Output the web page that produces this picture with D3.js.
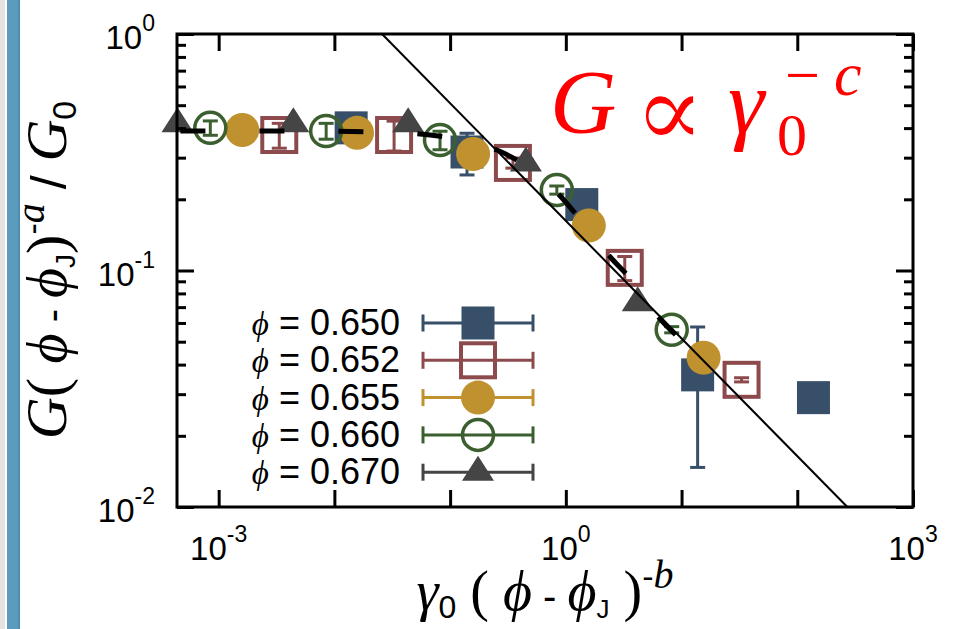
<!DOCTYPE html>
<html><head><meta charset="utf-8">
<script src="https://cdn.jsdelivr.net/npm/d3@7"></script>
<style>body{margin:0;background:#fff;overflow:hidden}</style>
</head><body>
<svg id="c" width="957" height="629" xmlns="http://www.w3.org/2000/svg"></svg>
<script>
// ---------- data ----------
const seriesLabels = ["0.650", "0.652", "0.655", "0.660", "0.670"];

const phi650X = [0.01396, 0.140, 1.374, 13.77, 138];
const phi650Y = [0.401, 0.317, 0.190, 0.0362, 0.0290];
const phi650E = [0.02, 0.0635, 0.02, 0.0215, 0.001];

const phi652X = [0.00334, 0.0328, 0.349, 3.23, 33.0];
const phi652Y = [0.374, 0.374, 0.285, 0.1026, 0.0345];
const phi652E = [0.045, 0.054, 0.014, 0.012, 0.0007];

const phi655X = [0.00160, 0.0157, 0.158, 1.58, 15.5];
const phi655Y = [0.393, 0.382, 0.311, 0.155, 0.0428];
const phi655E = [0.01, 0.01, 0.01, 0.005, 0.002];

const phi660X = [0.000847, 0.00849, 0.0818, 0.836, 8.22];
const phi660Y = [0.401, 0.389, 0.356, 0.219, 0.0562];
const phi660E = [0.028, 0.030, 0.032, 0.0087, 0.0017];

const phi670X = [0.000441, 0.00442, 0.0434, 0.452, 4.18];
const phi670Y = [0.417, 0.417, 0.417, 0.285, 0.0731];
const phi670E = [0.01, 0.01, 0.01, 0.01, 0.002];

// master curve (dashed)
const masterX = [0.00044, 0.00507, 0.0248, 0.0904, 0.254, 0.401, 0.924, 1.269, 2.544, 3.57, 6.87, 8.89];
const masterY = [0.389, 0.389, 0.385, 0.367, 0.323, 0.288, 0.203, 0.169, 0.111, 0.0931, 0.0607, 0.0535];

// power-law guide line endpoints
const fitX = [0.0258, 271];
const fitY = [1, 0.01];

const xTickExps = [-3, -2, -1, 0, 1, 2, 3];
const xLabelExps = [-3, 0, 3];
const yLabelExps = [-2, -1, 0];

// ---------- styles ----------
const colors = ["#384f69", "#8c4a4d", "#c0922f", "#3c5f2f", "#454545"];
const shapes = ["sqFill", "sqOpen", "circFill", "circOpen", "tri"];
const SERIF = "'Liberation Serif','DejaVu Serif',serif";
const SANS = "'Liberation Sans',Arial,Helvetica,sans-serif";

const svg = d3.select("#c");
const L = 177, R = 913, T = 34, B = 507;

const x = d3.scaleLog().domain([Math.pow(10, -3.36), 1e3]).range([L, R]);
const y = d3.scaleLog().domain([0.01, 1]).range([B, T]);

// left decorative strip
svg.append("rect").attr("x", 0).attr("y", 0).attr("width", 5).attr("height", 629).attr("fill", "#e3e3e3");
svg.append("rect").attr("x", 7).attr("y", 0).attr("width", 13).attr("height", 629).attr("fill", "#5a9bbe");
svg.append("rect").attr("x", 18).attr("y", 0).attr("width", 2).attr("height", 629).attr("fill", "#4f8cad");

const series = [
  {X: phi650X, Y: phi650Y, E: phi650E},
  {X: phi652X, Y: phi652Y, E: phi652E},
  {X: phi655X, Y: phi655Y, E: phi655E},
  {X: phi660X, Y: phi660Y, E: phi660E},
  {X: phi670X, Y: phi670Y, E: phi670E}
];

function drawMarker(g, shape, color, cx, cy) {
  if (shape === "sqFill") {
    g.append("rect").attr("x", cx - 16.5).attr("y", cy - 16.5).attr("width", 33).attr("height", 33).attr("fill", color);
  } else if (shape === "sqOpen") {
    g.append("rect").attr("x", cx - 17).attr("y", cy - 17).attr("width", 34).attr("height", 34)
      .attr("fill", "none").attr("stroke", color).attr("stroke-width", 4);
  } else if (shape === "circFill") {
    g.append("circle").attr("cx", cx).attr("cy", cy).attr("r", 17).attr("fill", color);
  } else if (shape === "circOpen") {
    g.append("circle").attr("cx", cx).attr("cy", cy).attr("r", 15.5)
      .attr("fill", "none").attr("stroke", color).attr("stroke-width", 3.5);
  } else {
    g.append("path").attr("d", `M${cx},${cy - 16.5}L${cx + 16},${cy + 8.5}L${cx - 16},${cy + 8.5}Z`).attr("fill", color);
  }
}

const gData = svg.append("g");
series.forEach((s, i) => {
  const g = gData.append("g");
  s.X.forEach((xv, j) => {
    const cx = x(xv), yv = s.Y[j], e = s.E[j];
    const y1 = y(yv + e), y2 = y(Math.max(yv - e, 1e-4));
    g.append("line").attr("x1", cx).attr("x2", cx).attr("y1", y1).attr("y2", y2)
      .attr("stroke", colors[i]).attr("stroke-width", 3);
    [y1, y2].forEach(yy => g.append("line").attr("x1", cx - 7.5).attr("x2", cx + 7.5).attr("y1", yy).attr("y2", yy)
      .attr("stroke", colors[i]).attr("stroke-width", 3));
  });
  s.X.forEach((xv, j) => drawMarker(g, shapes[i], colors[i], x(xv), y(s.Y[j])));
});

// dashed master curve
const master = masterX.map((v, i) => [v, masterY[i]]);
svg.append("path").datum(master)
  .attr("d", d3.line().x(d => x(d[0])).y(d => y(d[1])).curve(d3.curveMonotoneX))
  .attr("fill", "none").attr("stroke", "#000").attr("stroke-width", 5)
  .attr("stroke-dasharray", "25,54").attr("stroke-dashoffset", 76);

// power-law line
svg.append("path").datum(fitX.map((v, i) => [v, fitY[i]]))
  .attr("d", d3.line().x(d => x(d[0])).y(d => y(d[1])))
  .attr("fill", "none").attr("stroke", "#000").attr("stroke-width", 2);

// ---------- axes ----------
const yTickVals = [];
[-2, -1].forEach(e => { for (let m = 1; m <= 9; m++) yTickVals.push(m * Math.pow(10, e)); });
yTickVals.push(1);
const isMajor = v => Math.abs(Math.log10(v) - Math.round(Math.log10(v))) < 1e-6;
const xTickVals = xTickExps.map(e => Math.pow(10, e));

function styleAxis(g, horiz, sign) {
  g.select(".domain").remove();
  g.selectAll(".tick text").remove();
  g.selectAll(".tick line").attr("stroke", "#000").attr("stroke-width", 3)
    .each(function(d) {
      const len = isMajor(d) ? 17 : 9;
      if (horiz) d3.select(this).attr("y2", sign * len); else d3.select(this).attr("x2", sign * len);
    });
}
styleAxis(svg.append("g").attr("transform", `translate(${L},0)`).call(d3.axisLeft(y).tickValues(yTickVals).tickSize(-17).tickFormat("")), false, 1);
styleAxis(svg.append("g").attr("transform", `translate(${R},0)`).call(d3.axisRight(y).tickValues(yTickVals).tickSize(-17).tickFormat("")), false, -1);
styleAxis(svg.append("g").attr("transform", `translate(0,${B})`).call(d3.axisBottom(x).tickValues(xTickVals).tickSize(-17).tickFormat("")), true, -1);
styleAxis(svg.append("g").attr("transform", `translate(0,${T})`).call(d3.axisTop(x).tickValues(xTickVals).tickSize(-17).tickFormat("")), true, 1);

svg.append("rect").attr("x", L).attr("y", T).attr("width", R - L).attr("height", B - T)
  .attr("fill", "none").attr("stroke", "#000").attr("stroke-width", 3);

// tick labels
xLabelExps.forEach(e => {
  const t = svg.append("text").attr("x", x(Math.pow(10, e))).attr("y", 560)
    .attr("text-anchor", "middle").attr("font-family", SANS).attr("font-size", 33).attr("fill", "#000");
  t.append("tspan").text("10");
  t.append("tspan").attr("font-size", 23).attr("dy", -18).text(String(e));
});
yLabelExps.forEach(e => {
  const t = svg.append("text").attr("x", 155).attr("y", y(Math.pow(10, e)) + 15)
    .attr("text-anchor", "end").attr("font-family", SANS).attr("font-size", 33).attr("fill", "#000");
  t.append("tspan").text("10");
  t.append("tspan").attr("font-size", 23).attr("dy", -18).text(String(e));
});

// ---------- legend ----------
seriesLabels.forEach((lab, i) => {
  const cy = 323 + i * 37.3;
  const t = svg.append("text").attr("x", 400).attr("y", cy + 12).attr("text-anchor", "end")
    .attr("fill", "#000").style("white-space", "pre");
  t.append("tspan").attr("font-family", SERIF).attr("font-style", "italic").attr("font-size", 33).text("ϕ");
  t.append("tspan").attr("font-family", SANS).attr("font-size", 36).text(" = " + lab);
  const g = svg.append("g");
  g.append("line").attr("x1", 423).attr("x2", 533).attr("y1", cy).attr("y2", cy).attr("stroke", colors[i]).attr("stroke-width", 3);
  [423, 533].forEach(xx => g.append("line").attr("x1", xx).attr("x2", xx).attr("y1", cy - 8.5).attr("y2", cy + 8.5)
    .attr("stroke", colors[i]).attr("stroke-width", 3));
  drawMarker(g, shapes[i], colors[i], 478, cy);
});

// ---------- axis titles ----------
const yl = svg.append("text").attr("transform", "translate(66,270) rotate(-90)")
  .attr("text-anchor", "middle").attr("fill", "#000").style("white-space", "pre").attr("font-size", 58);
yl.append("tspan").attr("font-family", SERIF).attr("font-style", "italic").text("G");
yl.append("tspan").attr("font-family", SERIF).text("( ");
yl.append("tspan").attr("font-family", SERIF).attr("font-style", "italic").text("ϕ");
yl.append("tspan").attr("font-family", SANS).attr("font-size", 40).text(" - ");
yl.append("tspan").attr("font-family", SERIF).attr("font-style", "italic").text("ϕ");
yl.append("tspan").attr("font-family", SANS).attr("font-size", 28).attr("dy", 9).text("J");
yl.append("tspan").attr("font-family", SERIF).attr("dy", -9).text(")");
yl.append("tspan").attr("font-family", SANS).attr("font-size", 34).attr("dy", -22).text("-");
yl.append("tspan").attr("font-family", SERIF).attr("font-style", "italic").attr("font-size", 40).text("a");
yl.append("tspan").attr("font-family", SANS).attr("font-size", 50).attr("dy", 22).text(" / ");
yl.append("tspan").attr("font-family", SERIF).attr("font-style", "italic").text("G");
yl.append("tspan").attr("font-family", SANS).attr("font-size", 34).attr("dy", 10).text("0");

const xl = svg.append("text").attr("x", 545).attr("y", 610)
  .attr("text-anchor", "middle").attr("fill", "#000").style("white-space", "pre").attr("font-size", 56);
xl.append("tspan").attr("font-family", SERIF).attr("font-style", "italic").text("γ");
xl.append("tspan").attr("font-family", SANS).attr("font-size", 32).attr("dy", 8).text("0");
xl.append("tspan").attr("font-family", SERIF).attr("dy", -8).text(" ( ");
xl.append("tspan").attr("font-family", SERIF).attr("font-style", "italic").text("ϕ");
xl.append("tspan").attr("font-family", SANS).attr("font-size", 40).text(" - ");
xl.append("tspan").attr("font-family", SERIF).attr("font-style", "italic").text("ϕ");
xl.append("tspan").attr("font-family", SANS).attr("font-size", 26).attr("dy", 8).text("J");
xl.append("tspan").attr("font-family", SERIF).attr("dy", -8).text(" )");
xl.append("tspan").attr("font-family", SANS).attr("font-size", 34).attr("dy", -22).text("-");
xl.append("tspan").attr("font-family", SERIF).attr("font-style", "italic").attr("font-size", 40).text("b");

// ---------- red annotation ----------
const red = "#ff0000";
svg.append("text").attr("x", 550).attr("y", 133).attr("font-family", SERIF).attr("font-style", "italic")
  .attr("font-size", 92).attr("fill", red).text("G");
svg.append("text").attr("x", 634).attr("y", 147).attr("font-family", SERIF)
  .attr("font-size", 105).attr("fill", red).attr("stroke", "#fff").attr("stroke-width", 1.2)
  .attr("paint-order", "fill").text("∝");
svg.append("text").attr("x", 728).attr("y", 133).attr("font-family", SERIF).attr("font-style", "italic")
  .attr("font-size", 92).attr("fill", red).text("γ");
svg.append("text").attr("x", 777).attr("y", 155).attr("font-family", SERIF)
  .attr("font-size", 60).attr("fill", red).text("0");
svg.append("text").attr("x", 785).attr("y", 96).attr("font-family", SERIF)
  .attr("font-size", 62).attr("fill", red).text("−");
svg.append("text").attr("x", 834).attr("y", 95).attr("font-family", SERIF).attr("font-style", "italic")
  .attr("font-size", 62).attr("fill", red).text("c");
</script>
</body></html>
